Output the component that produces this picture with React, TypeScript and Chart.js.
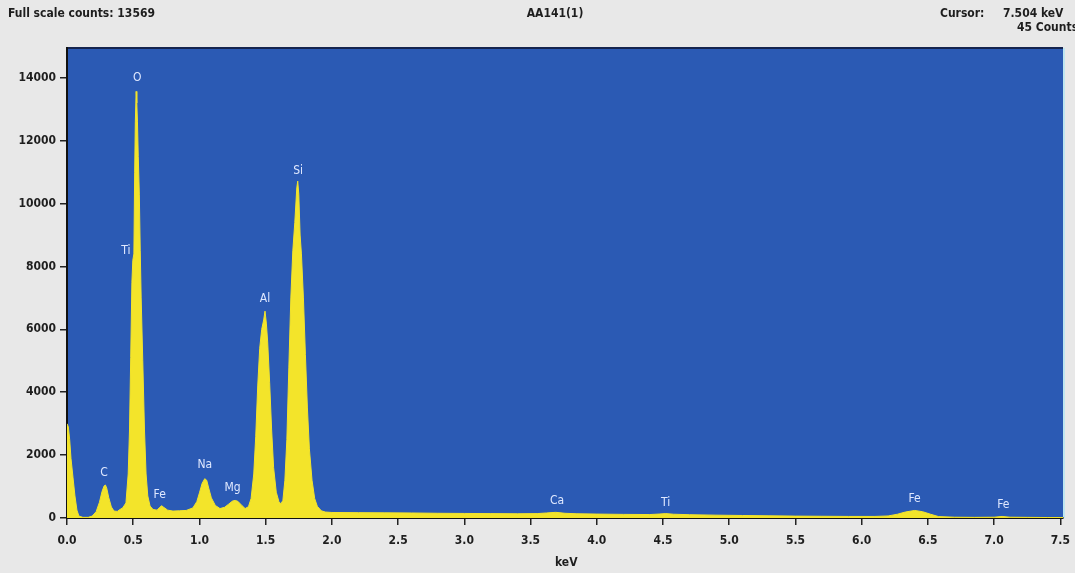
import React, { useEffect, useRef } from "react";
import { Chart, registerables } from "chart.js";

Chart.register(...registerables);

// Spectrum: energy (keV) and counts
const energyKeV: number[] = [
  0.0, 0.01, 0.02, 0.03, 0.045, 0.06, 0.075, 0.09, 0.12, 0.16, 0.19, 0.22, 0.245, 0.265, 0.28, 0.29, 0.3, 0.315, 0.335, 0.355,
  0.38, 0.4, 0.42, 0.445, 0.462, 0.472, 0.481, 0.49, 0.497, 0.505, 0.511, 0.516, 0.522, 0.527, 0.532, 0.538, 0.546, 0.553, 0.56, 0.572,
  0.585, 0.597, 0.61, 0.627, 0.65, 0.68, 0.7, 0.715, 0.73, 0.76, 0.8, 0.85, 0.9, 0.95, 0.98, 1.0, 1.02, 1.04, 1.055, 1.07,
  1.09, 1.12, 1.155, 1.19, 1.22, 1.25, 1.27, 1.29, 1.32, 1.345, 1.37, 1.39, 1.41, 1.425, 1.44, 1.455, 1.47, 1.485, 1.495, 1.505,
  1.515, 1.53, 1.545, 1.56, 1.58, 1.6, 1.615, 1.63, 1.645, 1.66, 1.675, 1.69, 1.705, 1.72, 1.735, 1.742, 1.75, 1.76, 1.77, 1.785,
  1.8, 1.815, 1.83, 1.85, 1.87, 1.89, 1.92, 1.95, 2.0, 2.2, 2.4, 2.6, 2.8, 3.0, 3.2, 3.4, 3.55, 3.62, 3.69, 3.76,
  3.85, 4.0, 4.2, 4.4, 4.47, 4.52, 4.58, 4.7, 4.9, 5.1, 5.3, 5.5, 5.7, 5.9, 6.1, 6.2, 6.27, 6.33, 6.4, 6.46,
  6.52, 6.58, 6.7, 6.85, 7.0, 7.06, 7.12, 7.25, 7.4, 7.52,
];
const counts: number[] = [
  3000, 2900, 2500, 1900, 1300, 700, 250, 60, 20, 20, 60, 200, 500, 850, 1020, 1050, 950, 650, 350, 220,
  210, 270, 320, 480, 1400, 2800, 5100, 7500, 8200, 8400, 11000, 12600, 13569, 13200, 12600, 11500, 10300, 8500, 7000, 5000,
  2800, 1400, 700, 380, 270, 250, 340, 390, 340, 250, 220, 230, 240, 320, 520, 800, 1100, 1250, 1200, 950,
  640, 400, 300, 340, 440, 540, 560, 530, 400, 300, 360, 620, 1400, 2600, 4200, 5400, 6000, 6300, 6580, 6200,
  5600, 4300, 2800, 1600, 820, 520, 450, 560, 1200, 2500, 4800, 7000, 8500, 9400, 10500, 10715, 10300, 9000, 8400, 7000,
  5200, 3500, 2200, 1200, 620, 370, 230, 190, 175, 170, 165, 160, 150, 145, 140, 135, 140, 160, 180, 150,
  135, 125, 115, 110, 125, 140, 120, 105, 90, 80, 70, 60, 55, 50, 50, 65, 120, 190, 240, 200,
  120, 45, 25, 20, 25, 50, 25, 20, 15, 15,
];

// Element peak labels
const elementNames: string[] = ["O", "Ti", "Si", "Al", "C", "Fe", "Na", "Mg", "Ca", "Ti", "Fe", "Fe"];
const elementKeV: number[] = [0.53, 0.445, 1.745, 1.495, 0.28, 0.7, 1.04, 1.25, 3.7, 4.52, 6.4, 7.07];
const elementCounts: number[] = [14000, 8490, 11030, 6960, 1430, 730, 1690, 950, 540, 480, 600, 410];

const xTickValues: number[] = [0, 0.5, 1, 1.5, 2, 2.5, 3, 3.5, 4, 4.5, 5, 5.5, 6, 6.5, 7, 7.5];
const yTickValues: number[] = [0, 2000, 4000, 6000, 8000, 10000, 12000, 14000];

const FONT = '"Liberation Sans Narrow", "DejaVu Sans Condensed", "Roboto Condensed", "Liberation Sans", sans-serif';

export default function App() {
  const ref = useRef<HTMLCanvasElement | null>(null);

  useEffect(() => {
    document.body.style.margin = "0";
    const canvas = ref.current;
    if (!canvas) return;

    const bgPlugin = {
      id: "plotBg",
      beforeDraw(chart: any) {
        const { ctx, chartArea: a } = chart;
        ctx.save();
        ctx.fillStyle = "#2b5ab4";
        ctx.fillRect(a.left, a.top, a.right - a.left, a.bottom - a.top);
        ctx.strokeStyle = "#16244f";
        ctx.lineWidth = 2;
        ctx.beginPath();
        ctx.moveTo(a.left, a.top);
        ctx.lineTo(a.right, a.top);
        ctx.stroke();
        ctx.strokeStyle = "#bfe6f0";
        ctx.lineWidth = 2;
        ctx.beginPath();
        ctx.moveTo(a.right + 1, a.top);
        ctx.lineTo(a.right + 1, a.bottom);
        ctx.stroke();
        ctx.restore();
      },
    };

    const labelPlugin = {
      id: "elementLabels",
      afterDatasetsDraw(chart: any) {
        const { ctx } = chart;
        const xs = chart.scales.x;
        const ys = chart.scales.y;
        ctx.save();
        ctx.fillStyle = "#dfe8ff";
        ctx.font = `12px ${FONT}`;
        ctx.textAlign = "center";
        ctx.textBaseline = "middle";
        elementNames.forEach((name, i) => {
          ctx.fillText(name, xs.getPixelForValue(elementKeV[i]), ys.getPixelForValue(elementCounts[i]));
        });
        ctx.restore();
      },
    };

    const chart = new Chart(canvas, {
      type: "line",
      data: {
        datasets: [
          {
            data: energyKeV.map((e, i) => ({ x: e, y: counts[i] })),
            borderColor: "#f3e42a",
            backgroundColor: "#f3e42a",
            borderWidth: 1,
            borderJoinStyle: "round",
            pointRadius: 0,
            tension: 0,
            fill: "origin",
          },
        ],
      },
      options: {
        animation: false,
        responsive: false,
        events: [],
        layout: { padding: { top: 48, right: 12, left: 0, bottom: 0 } },
        plugins: { legend: { display: false }, tooltip: { enabled: false }, title: { display: false } },
        scales: {
          x: {
            type: "linear",
            min: 0,
            max: 7.52,
            afterFit: (s: any) => {
              s.height = 55;
              s.paddingRight = 0;
            },
            afterBuildTicks: (s: any) => {
              s.ticks = xTickValues.map((v) => ({ value: v }));
            },
            ticks: {
              color: "#1e1e1e",
              font: { family: FONT, size: 12, weight: "bold" },
              padding: 9,
              maxRotation: 0,
              autoSkip: false,
              callback: (v: any) => Number(v).toFixed(1),
            },
            grid: { drawOnChartArea: false, tickLength: 7, color: "#222", lineWidth: 1.5 },
            border: { display: true, color: "#111", width: 2 },
          },
          y: {
            type: "linear",
            min: 0,
            max: 14950,
            afterFit: (s: any) => {
              s.width = 67;
            },
            afterBuildTicks: (s: any) => {
              s.ticks = yTickValues.map((v) => ({ value: v }));
            },
            ticks: {
              color: "#1e1e1e",
              font: { family: FONT, size: 12, weight: "bold" },
              padding: 4,
              autoSkip: false,
              callback: (v: any) => String(v),
            },
            grid: { drawOnChartArea: false, tickLength: 7, color: "#222", lineWidth: 1.5 },
            border: { display: true, color: "#111", width: 2 },
          },
        },
      },
      plugins: [bgPlugin, labelPlugin],
    } as any);

    return () => chart.destroy();
  }, []);

  const txt: React.CSSProperties = {
    position: "absolute",
    fontFamily: FONT,
    fontWeight: "bold",
    fontSize: 12,
    color: "#1e1e1e",
    whiteSpace: "nowrap",
    lineHeight: "15px",
  };

  return (
    <div style={{ position: "fixed", left: 0, top: 0, width: 1075, height: 573, background: "#e8e8e8", overflow: "hidden" }}>
      <canvas ref={ref} width={1075} height={573} style={{ position: "absolute", left: 0, top: 0 }} />
      <div style={{ ...txt, left: 8, top: 6 }}>Full scale counts: 13569</div>
      <div style={{ ...txt, left: 555, top: 6, transform: "translateX(-50%)" }}>AA141(1)</div>
      <div style={{ ...txt, left: 940, top: 6 }}>Cursor:</div>
      <div style={{ ...txt, left: 1003, top: 6 }}>7.504 keV</div>
      <div style={{ ...txt, left: 1017, top: 20 }}>45 Counts</div>
      <div style={{ ...txt, left: 555, top: 555 }}>keV</div>
    </div>
  );
}
